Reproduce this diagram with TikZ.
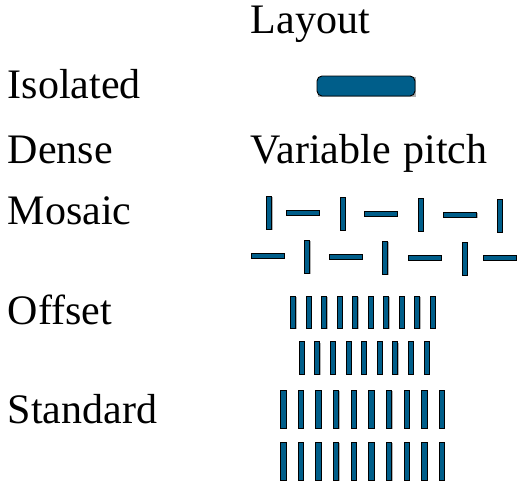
\documentclass[tikz,border=0pt]{standalone}
\usepackage{fontspec}
\setmainfont{Liberation Serif}
\definecolor{barblue}{RGB}{0,94,138}
\begin{document}
\begin{tikzpicture}[x=1pt,y=-1pt,
  label/.style={inner sep=0pt,anchor=base west,font=\fontsize{42}{42}\selectfont},
  feature/.style={fill=barblue,draw=black,line width=0.9pt},
  shade/.style={fill=black!30,draw=none}]
\useasboundingbox (0,0) rectangle (519,483);

% row labels
\node[label] (layout)   at (250.5,33.3)  {Layout};
\node[label] (isolated) at (7.5,98.3)    {Isolated};
\node[label] (dense)    at (7.5,163)     {Dense};
\node[label] (varpitch) at (250.5,163)   {Variable\hspace{13pt}pitch};
\node[label] (mosaic)   at (7.5,224)     {Mosaic};
\node[label] (offset)   at (7.5,324)     {Offset};
\node[label] (standard) at (7.5,423.3)   {Standard};

% isolated line
\fill[shade] (318,77.2) rectangle (416,97);
\draw[feature,rounded corners=5pt] (317,76) rectangle (415,96);

% mosaic: alternating vertical and horizontal segments
\foreach \x/\y in {266.7/196,340/197,418/198,497/199,304.7/240,382.7/241,462/242}{
  \fill[shade] (\x+0.8,\y+0.8) rectangle (\x+5.8,\y+33.8);
  \draw[feature] (\x,\y) rectangle (\x+5,\y+33);
}
\foreach \x/\y in {286/210,364/211,443.7/212,251/253,329/254,408/255,483/255}{
  \fill[shade] (\x+0.8,\y+0.8) rectangle (\x+33.8,\y+5.8);
  \draw[feature] (\x,\y) rectangle (\x+33,\y+5);
}

% offset: two rows of lines, the second shifted by half a pitch
\foreach \i in {0,...,9}{
  \pgfmathsetmacro\xa{290.7+15.51*\i}
  \fill[shade] (\xa+0.8,296.8) rectangle (\xa+5.8,328.8);
  \draw[feature] (\xa,296) rectangle (\xa+5,328);
}
\foreach \i in {0,...,8}{
  \pgfmathsetmacro\xa{299.3+15.59*\i}
  \fill[shade] (\xa+0.8,342.5) rectangle (\xa+5.8,374.8);
  \draw[feature] (\xa,341.7) rectangle (\xa+5,374);
}

% standard: two aligned rows of lines
\foreach \yt/\yb in {390/428.3,442.3/480}{
  \foreach \i in {0,...,9}{
    \pgfmathsetmacro\xa{280.7+17.62*\i}
    \fill[shade] (\xa+0.8,\yt+0.8) rectangle (\xa+6.1,\yb+0.8);
    \draw[feature] (\xa,\yt) rectangle (\xa+5.3,\yb);
  }
}
\end{tikzpicture}
\end{document}
